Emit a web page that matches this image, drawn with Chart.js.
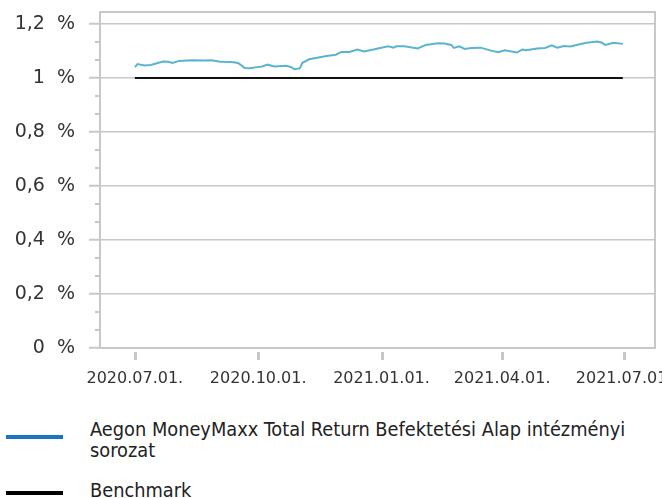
<!DOCTYPE html>
<html>
<head>
<meta charset="utf-8">
<script src="https://cdn.jsdelivr.net/npm/chart.js@4"></script>
<style>
  body { margin: 0; background: #fff; }
  #wrap { position: relative; width: 662px; height: 498px; overflow: hidden; }
  #myChart { position: absolute; left: 0; top: 0; }
  .sw { position: absolute; left: 6px; width: 57px; height: 4px; }
  .lt { position: absolute; left: 90px; width: 560px; font-family: 'Liberation Sans Narrow', 'DejaVu Sans Condensed', sans-serif; font-size: 19.8px; line-height: 20.6px; color: #222; }
</style>
</head>
<body>
<div id="wrap">
  <canvas id="myChart" width="662" height="400"></canvas>
  <div class="sw" style="top:435px; background:#1a74bf;"></div>
  <div class="lt" style="top:420px;">Aegon MoneyMaxx Total Return Befektetési Alap intézményi sorozat</div>
  <div class="sw" style="top:491px; background:#000;"></div>
  <div class="lt" style="top:481px;">Benchmark</div>
</div>
<script>
//DATI
const fundDates = ['2020-07-01','2020-07-03','2020-07-08','2020-07-13','2020-07-18','2020-07-22','2020-07-26','2020-07-29',
  '2020-08-03','2020-08-12','2020-08-22','2020-08-27',
  '2020-09-03','2020-09-11','2020-09-16','2020-09-21','2020-09-25','2020-09-29',
  '2020-10-04','2020-10-08','2020-10-13','2020-10-22','2020-10-26','2020-10-28',
  '2020-11-01','2020-11-03','2020-11-08','2020-11-13','2020-11-21','2020-11-28',
  '2020-12-02','2020-12-08','2020-12-14','2020-12-19','2020-12-26','2020-12-31',
  '2021-01-06','2021-01-10','2021-01-12','2021-01-18','2021-01-28',
  '2021-02-03','2021-02-12','2021-02-17','2021-02-22','2021-02-24','2021-02-28',
  '2021-03-04','2021-03-09','2021-03-16','2021-03-23','2021-03-29',
  '2021-04-03','2021-04-12','2021-04-16','2021-04-19','2021-04-27',
  '2021-05-03','2021-05-08','2021-05-12','2021-05-17','2021-05-22','2021-05-28',
  '2021-06-03','2021-06-11','2021-06-14','2021-06-17','2021-06-23','2021-06-30'];
const fundValues = [1.040,1.051,1.046,1.048,1.055,1.061,1.060,1.055,
  1.063,1.065,1.064,1.065,
  1.060,1.059,1.055,1.037,1.036,1.039,
  1.042,1.049,1.042,1.045,1.039,1.032,
  1.035,1.056,1.069,1.074,1.081,1.086,
  1.096,1.096,1.105,1.098,1.105,1.111,
  1.117,1.112,1.117,1.117,1.109,
  1.122,1.128,1.127,1.122,1.111,1.117,
  1.107,1.111,1.112,1.102,1.095,
  1.102,1.094,1.105,1.102,1.109,
  1.111,1.121,1.112,1.118,1.116,1.124,
  1.130,1.135,1.131,1.122,1.130,1.126];
const benchDates = ['2020-07-01','2021-06-30'];
const benchValues = [1.0, 1.0];

const xTickDates = ['2020-07-01','2020-10-01','2021-01-01','2021-04-01','2021-07-01'];
const xTickLabels = ['2020.07.01.','2020.10.01.','2021.01.01.','2021.04.01.','2021.07.01.'];
const yTickValues = [0, 0.2, 0.4, 0.6, 0.8, 1.0, 1.2];
const yTickLabels = ['0  %','0,2  %','0,4  %','0,6  %','0,8  %','1  %','1,2  %'];

//giorni dal 2020-07-01
const start = Date.UTC(2020, 6, 1);
function dayOf(s) {
  const p = s.split('-');
  return (Date.UTC(+p[0], +p[1] - 1, +p[2]) - start) / 864e5;
}
const gridCol = '#c8c8c8';

//plugin: bordo del riquadro, tacche minori e tacche dell'asse x
const extras = {
  id: 'extras',
  beforeDatasetsDraw(chart) {
    const ctx = chart.ctx, a = chart.chartArea;
    const y = chart.scales.y, x = chart.scales.x;
    ctx.save();
    ctx.strokeStyle = gridCol;
    ctx.lineWidth = 2;
    ctx.strokeRect(a.left, a.top, a.right - a.left, a.bottom - a.top);
    for (let i = 0; i < yTickValues.length - 1; i++) {
      const step = (yTickValues[i + 1] - yTickValues[i]) / 3;
      for (let k = 1; k < 3; k++) {
        const py = Math.round(y.getPixelForValue(yTickValues[i] + k * step));
        ctx.beginPath();
        ctx.moveTo(a.left - 5, py);
        ctx.lineTo(a.left, py);
        ctx.stroke();
      }
    }
    ctx.lineWidth = 3;
    for (const d of xTickDates) {
      const px = Math.round(x.getPixelForValue(dayOf(d))) + 0.5;
      ctx.beginPath();
      ctx.moveTo(px, a.bottom + 4);
      ctx.lineTo(px, a.bottom + 12);
      ctx.stroke();
    }
    ctx.restore();
  }
};

Chart.defaults.font.family = 'DejaVu Sans';
Chart.defaults.color = '#333';

const chart = document.getElementById('myChart');
new Chart(chart, {
  type: 'line',
  data: {
    datasets: [{
      label: 'Aegon MoneyMaxx Total Return Befektetési Alap intézményi sorozat',
      data: fundDates.map((d, i) => ({x: dayOf(d), y: fundValues[i]})),
      borderColor: '#5ab4cf',
      borderWidth: 2,
      pointRadius: 0,
      tension: 0
    }, {
      label: 'Benchmark',
      data: benchDates.map((d, i) => ({x: dayOf(d), y: benchValues[i]})),
      borderColor: '#111',
      borderWidth: 2,
      pointRadius: 0,
      tension: 0
    }]
  },
  options: {
    responsive: false,
    animation: false,
    layout: { padding: { top: 12, right: 7, left: 0, bottom: 0 } },
    plugins: { legend: { display: false }, tooltip: { enabled: false } },
    scales: {
      x: {
        type: 'linear',
        min: -26,
        max: 388,
        afterBuildTicks: s => { s.ticks = xTickDates.map(d => ({value: dayOf(d)})); },
        afterFit: s => { s.height = 52; s.paddingLeft = 0; s.paddingRight = 0; },
        grid: { drawOnChartArea: false, drawTicks: false },
        border: { display: true, color: gridCol, width: 2 },
        ticks: {
          padding: 21,
          maxRotation: 0,
          autoSkip: false,
          font: { size: 16 },
          callback: (v, i) => xTickLabels[i]
        }
      },
      y: {
        min: 0,
        max: 1.244,
        afterBuildTicks: s => { s.ticks = yTickValues.map(v => ({value: v})); },
        afterFit: s => { s.width = 100; s.paddingTop = 0; s.paddingBottom = 0; },
        grid: { color: gridCol, lineWidth: 1.5, tickLength: 11, tickColor: gridCol, tickWidth: 2 },
        border: { display: true, color: gridCol, width: 2 },
        ticks: {
          padding: 14,
          font: { size: 19 },
          callback: (v, i) => yTickLabels[i]
        }
      }
    }
  },
  plugins: [extras]
});
</script>
</body>
</html>
